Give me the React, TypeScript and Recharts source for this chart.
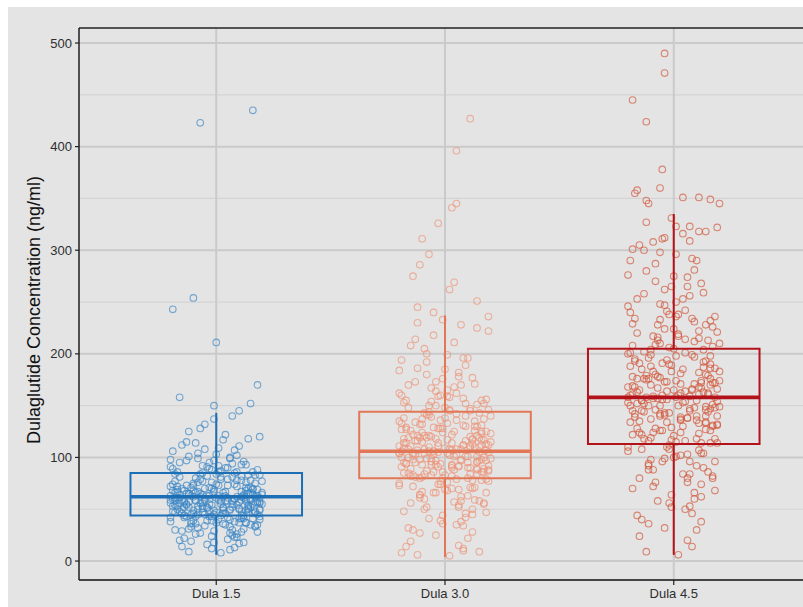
import { ScatterChart, Scatter, XAxis, YAxis, CartesianGrid, ReferenceArea, ReferenceLine } from 'recharts'

// categories and axis
const groups = ['Dula 1.5', 'Dula 3.0', 'Dula 4.5']
const yTicks = [0, 100, 200, 300, 400, 500]
const yMinor = [50, 150, 250, 350, 450]
const yTitle = 'Dulaglutide Concentration (ng/ml)'

// box stats: [whiskerLow, q1, median, q3, whiskerHigh]
const dula15Box = [6, 44, 62, 85, 143]
const dula30Box = [4, 80, 106, 144, 237]
const dula45Box = [6, 113, 158, 205, 335]

// jittered points: [jitter (1/100 of a category), value]
const dula15Points = [
  [-12, 52], [8, 38], [15, 71], [-3, 95], [-18, 47], [4, 63], [11, 28], [-7, 84], [19, 57], [-15, 112],
  [2, 44], [-9, 66], [13, 49], [-20, 91], [6, 33], [17, 75], [-5, 58], [-14, 22], [9, 102], [0, 61],
  [-17, 69], [12, 41], [-2, 54], [18, 88], [-11, 36], [5, 79], [-6, 47], [14, 118], [-19, 60], [7, 25],
  [16, 64], [-8, 99], [3, 51], [-13, 73], [10, 17], [-1, 45], [19, 83], [-16, 56], [8, 107], [-4, 39],
  [-10, 68], [14, 53], [1, 92], [-18, 30], [11, 62], [-6, 77], [17, 48], [-12, 125], [4, 35], [-20, 59],
  [9, 86], [-3, 43], [15, 66], [-15, 50], [6, 11], [-9, 80], [20, 55], [-1, 97], [12, 31], [-17, 72],
  [3, 46], [-13, 115], [18, 63], [-7, 27], [10, 57], [-19, 89], [1, 40], [16, 70], [-4, 52], [-11, 19],
  [7, 94], [-16, 61], [13, 37], [-2, 76], [19, 49], [-8, 104], [5, 58], [-14, 42], [11, 67], [0, 84],
  [-18, 54], [8, 23], [-5, 132], [15, 60], [-10, 46], [2, 81], [17, 34], [-12, 65], [6, 50], [-20, 98],
  [12, 44], [-3, 71], [18, 56], [-15, 14], [4, 90], [-7, 62], [14, 47], [-1, 29], [9, 78], [-17, 53],
  [1, 109], [-11, 38], [16, 64], [-6, 85], [10, 51], [-19, 74], [5, 21], [-9, 59], [19, 120], [-2, 43],
  [-14, 68], [7, 55], [13, 93], [-8, 32], [3, 62], [-16, 48], [11, 82], [-4, 16], [17, 57], [-12, 101],
  [6, 40], [-18, 66], [14, 51], [-1, 137], [-10, 73], [9, 26], [-5, 60], [18, 45], [2, 87], [-13, 54],
  [15, 35], [-7, 79], [4, 58], [-20, 42], [12, 96], [-3, 63], [8, 13], [-15, 70], [19, 50], [-9, 114],
  [0, 47], [-12, 9], [16, 69], [-6, 56], [10, 37], [-17, 86], [5, 61], [-2, 24], [13, 76], [-11, 45],
  [-19, 106], [3, 52], [17, 33], [-8, 67], [7, 140], [-14, 58], [11, 41], [-4, 91], [20, 64], [-16, 20],
  [9, 72], [-1, 49], [14, 83], [-10, 39], [1, 59], [-18, 77], [18, 28], [-6, 53], [6, 100], [-13, 65],
  [12, 18], [-3, 89], [-15, 46], [4, 122], [16, 55], [-9, 36], [8, 74], [-20, 63], [2, 8], [-7, 128],
  [16, 435], [-7, 423], [-10, 254], [-19, 243], [0, 211], [18, 170], [-16, 158], [15, 152], [-1, 150], [10, 145],
  [-5, 108], [13, 60], [-12, 31], [7, 81], [19, 43], [-17, 67], [3, 117], [-8, 50], [11, 93], [-2, 12],
  [-14, 57], [6, 49], [17, 62], [-2, 70], [10, 41], [-19, 53], [3, 66], [13, 58], [-8, 45], [20, 77],
  [-5, 34], [8, 60], [-16, 81], [15, 52], [1, 73], [-11, 63], [11, 48], [-20, 38], [5, 90], [-3, 55],
  [18, 69], [-9, 43], [2, 58], [-13, 97], [12, 64], [-6, 51], [16, 86], [-18, 61], [7, 30], [-1, 67],
  [14, 54], [-10, 75], [4, 46], [-15, 59], [19, 40], [-4, 82], [9, 62], [-17, 50], [0, 103], [13, 71],
  [-7, 56], [6, 27], [-12, 65], [17, 47], [-2, 88], [11, 59], [-19, 68], [3, 36], [15, 78], [-8, 53],
  [1, 63], [-14, 44], [10, 111], [-5, 70], [18, 57], [-11, 33], [7, 52], [-16, 95], [12, 61], [-3, 48],
  [20, 66], [-9, 58], [5, 42], [-20, 72], [14, 50], [-6, 64], [2, 79], [-13, 55], [9, 23], [-1, 69],
  [16, 46], [-18, 84], [8, 60], [-4, 51], [13, 37], [-10, 62], [0, 74], [19, 56], [-15, 29], [6, 99],
  [-7, 65], [11, 44], [-12, 57], [17, 83], [3, 49], [-17, 61], [14, 70], [-2, 39], [9, 54], [-19, 48],
  [4, 67], [-8, 76], [15, 59], [-14, 52], [1, 86], [12, 63], [-5, 45], [18, 35], [-11, 71], [7, 58],
  [-1, 18], [-16, 64], [10, 50], [-6, 92], [19, 61], [2, 55], [-13, 43], [13, 68], [-9, 26], [5, 73],
  [-20, 56], [16, 41], [-3, 60], [8, 85], [-10, 49], [14, 65], [-18, 58], [0, 37], [11, 78], [-4, 63],
]

const dula30Points = [
  [-11, 98], [7, 62], [16, 131], [-4, 173], [-18, 85], [3, 114], [12, 45], [-7, 150], [19, 92], [-15, 208],
  [1, 76], [-9, 121], [14, 88], [-20, 162], [6, 54], [17, 137], [-5, 103], [-14, 30], [9, 189], [0, 109],
  [-17, 127], [12, 70], [-2, 94], [18, 156], [-11, 61], [5, 142], [-6, 83], [14, 225], [-19, 106], [7, 38],
  [16, 117], [-8, 180], [3, 90], [-13, 134], [10, 22], [-1, 80], [19, 146], [-16, 100], [8, 196], [-4, 66],
  [-10, 124], [14, 96], [1, 165], [-18, 48], [11, 111], [-6, 139], [17, 86], [-12, 230], [4, 57], [-20, 104],
  [9, 152], [-3, 74], [15, 119], [-15, 89], [6, 15], [-9, 143], [20, 99], [-1, 176], [12, 50], [-17, 129],
  [3, 82], [-13, 214], [18, 113], [-7, 41], [10, 101], [-19, 160], [1, 68], [16, 125], [-4, 93], [-11, 27],
  [7, 170], [-16, 108], [13, 59], [-2, 136], [19, 87], [-8, 192], [5, 102], [-14, 72], [11, 120], [0, 148],
  [-18, 95], [8, 34], [-5, 218], [15, 105], [-10, 81], [2, 145], [17, 55], [-12, 116], [6, 91], [-20, 184],
  [12, 78], [-3, 128], [18, 97], [-15, 19], [4, 168], [-7, 110], [14, 84], [-1, 44], [9, 140], [-17, 94],
  [1, 199], [-11, 64], [16, 112], [-6, 154], [10, 90], [-19, 133], [5, 35], [-9, 104], [19, 222], [-2, 77],
  [-14, 122], [7, 97], [13, 171], [-8, 52], [3, 107], [-16, 85], [11, 147], [-4, 25], [17, 100], [-12, 186],
  [6, 69], [-18, 118], [14, 89], [-1, 233], [-10, 132], [9, 42], [-5, 106], [18, 79], [2, 158], [-13, 95],
  [15, 58], [-7, 141], [4, 101], [-20, 73], [12, 177], [-3, 114], [8, 10], [-15, 126], [19, 88], [-9, 205],
  [0, 83], [-12, 6], [16, 123], [-6, 99], [10, 63], [-17, 155], [5, 108], [-2, 39], [13, 135], [-11, 80],
  [-19, 194], [3, 92], [17, 56], [-8, 119], [7, 228], [-14, 102], [11, 71], [-4, 164], [20, 115], [-16, 32],
  [9, 130], [-1, 86], [14, 151], [-10, 67], [1, 104], [-18, 138], [18, 47], [-6, 93], [6, 182], [-13, 116],
  [12, 28], [-3, 159], [-15, 82], [4, 211], [16, 98], [-9, 60], [8, 131], [-20, 111], [2, 5], [-7, 144],
  [11, 427], [5, 396], [5, 345], [3, 341], [-3, 326], [-10, 311], [-7, 296], [-11, 286], [-14, 275], [4, 269],
  [2, 262], [14, 251], [-12, 245], [-5, 240], [19, 236], [-17, 14], [8, 12], [-19, 8], [15, 9], [-8, 200],
  [-14, 104], [6, 92], [17, 117], [-2, 128], [10, 80], [-19, 100], [3, 122], [13, 110], [-8, 87], [20, 140],
  [-5, 66], [8, 112], [-16, 148], [15, 97], [1, 133], [-11, 119], [11, 90], [-20, 75], [5, 162], [-3, 105],
  [18, 125], [-9, 84], [2, 108], [-13, 173], [12, 118], [-6, 96], [16, 155], [-18, 114], [7, 58], [-1, 124],
  [14, 101], [-10, 137], [4, 88], [-15, 111], [19, 77], [-4, 150], [9, 116], [-17, 94], [0, 185], [13, 130],
  [-7, 106], [6, 52], [-12, 121], [17, 89], [-2, 160], [11, 109], [-19, 127], [3, 70], [15, 143], [-8, 99],
  [1, 117], [-14, 83], [10, 196], [-5, 129], [18, 107], [-11, 64], [7, 98], [-16, 170], [12, 113], [-3, 91],
  [20, 123], [-9, 108], [5, 79], [-20, 135], [14, 95], [-6, 120], [2, 146], [-13, 103], [9, 46], [-1, 128],
  [16, 86], [-18, 153], [8, 112], [-4, 97], [13, 71], [-10, 115], [0, 138], [19, 105], [-15, 56], [6, 178],
  [-7, 121], [11, 84], [-12, 107], [17, 152], [3, 93], [-17, 114], [14, 130], [-2, 74], [9, 101], [-19, 91],
  [4, 125], [-8, 141], [15, 110], [-14, 98], [1, 159], [12, 117], [-5, 86], [18, 66], [-11, 132], [7, 108],
  [-1, 36], [-16, 119], [10, 95], [-6, 167], [19, 112], [2, 102], [-13, 81], [13, 126], [-9, 50], [5, 136],
  [-20, 104], [16, 78], [-3, 111], [8, 157], [-10, 93], [14, 121], [-18, 109], [0, 69], [11, 145], [-4, 118],
]

const dula45Points = [
  [-11, 150], [7, 96], [16, 198], [-4, 262], [-18, 122], [3, 171], [12, 62], [-7, 228], [19, 140], [-15, 305],
  [1, 115], [-9, 183], [14, 134], [-20, 246], [6, 80], [17, 207], [-5, 156], [-14, 40], [9, 281], [0, 165],
  [-17, 193], [12, 104], [-2, 143], [18, 236], [-11, 88], [5, 214], [-6, 126], [14, 318], [-19, 160], [7, 53],
  [16, 176], [-8, 270], [3, 137], [-13, 202], [10, 30], [-1, 117], [19, 221], [-16, 152], [8, 292], [-4, 99],
  [-10, 188], [14, 146], [1, 250], [-18, 70], [11, 168], [-6, 210], [17, 130], [-12, 327], [4, 84], [-20, 158],
  [9, 231], [-3, 110], [15, 179], [-15, 135], [6, 20], [-9, 217], [20, 149], [-1, 265], [12, 74], [-17, 195],
  [3, 124], [-13, 300], [18, 172], [-7, 58], [10, 155], [-19, 240], [1, 101], [16, 190], [-4, 141], [-11, 36],
  [7, 256], [-16, 163], [13, 90], [-2, 206], [19, 132], [-8, 287], [5, 154], [-14, 108], [11, 182], [0, 224],
  [-18, 145], [8, 46], [-5, 311], [15, 161], [-10, 119], [2, 219], [17, 80], [-12, 175], [6, 138], [-20, 276],
  [12, 114], [-3, 194], [18, 148], [-15, 24], [4, 253], [-7, 167], [14, 127], [-1, 64], [9, 212], [-17, 142],
  [1, 296], [-11, 94], [16, 170], [-6, 233], [10, 136], [-19, 201], [5, 50], [-9, 157], [19, 322], [-2, 112],
  [-14, 185], [7, 147], [13, 259], [-8, 76], [3, 162], [-16, 128], [11, 222], [-4, 32], [17, 151], [-12, 280],
  [6, 103], [-18, 178], [14, 133], [-1, 331], [-10, 199], [9, 60], [-5, 160], [18, 118], [2, 238], [-13, 144],
  [15, 86], [-7, 213], [4, 153], [-20, 106], [12, 268], [-3, 173], [8, 14], [-15, 191], [19, 131], [-9, 308],
  [0, 121], [-12, 9], [16, 186], [-6, 150], [10, 92], [-17, 234], [5, 164], [-2, 56], [13, 204], [-11, 116],
  [-19, 290], [3, 139], [17, 82], [-8, 180], [7, 323], [-14, 155], [11, 107], [-4, 247], [20, 174], [-16, 44],
  [9, 197], [-1, 129], [14, 228], [-10, 98], [1, 158], [-18, 208], [18, 68], [-6, 140], [6, 274], [-13, 176],
  [12, 38], [-3, 241], [-15, 124], [4, 316], [16, 147], [-9, 88], [8, 199], [-20, 168], [2, 6], [-7, 216],
  [-4, 490], [-4, 471], [-18, 445], [-12, 424], [-5, 378], [-6, 360], [-16, 358], [-17, 355], [4, 351], [11, 351],
  [16, 349], [-12, 348], [20, 345], [-11, 345], [1, 323], [11, 318], [-4, 312], [7, 309], [-18, 301], [-6, 298],
  [-14, 155], [6, 138], [17, 172], [-2, 190], [10, 118], [-19, 150], [3, 181], [13, 163], [-8, 128], [20, 210],
  [-5, 96], [8, 166], [-16, 220], [15, 144], [1, 198], [-11, 176], [11, 133], [-20, 110], [5, 242], [-3, 156],
  [18, 186], [-9, 124], [2, 160], [-13, 258], [12, 174], [-6, 142], [16, 232], [-18, 169], [7, 84], [-1, 183],
  [14, 149], [-10, 204], [4, 130], [-15, 165], [19, 114], [-4, 224], [9, 171], [-17, 139], [0, 275], [13, 192],
  [-7, 157], [6, 76], [-12, 179], [17, 131], [-2, 238], [11, 161], [-19, 188], [3, 102], [15, 213], [-8, 146],
  [1, 174], [-14, 122], [10, 290], [-5, 191], [18, 158], [-11, 92], [7, 145], [-16, 253], [12, 167], [-3, 134],
  [20, 183], [-9, 159], [5, 116], [-20, 200], [14, 140], [-6, 177], [2, 217], [-13, 152], [9, 66], [-1, 189],
  [16, 126], [-18, 229], [8, 165], [-4, 143], [13, 104], [-10, 170], [0, 205], [19, 154], [-15, 80], [6, 265],
  [-7, 178], [11, 123], [-12, 158], [17, 226], [3, 136], [-17, 168], [14, 193], [-2, 108], [9, 148], [-19, 134],
  [4, 185], [-8, 209], [15, 162], [-14, 145], [1, 236], [12, 172], [-5, 126], [18, 96], [-11, 196], [7, 159],
  [-1, 52], [-16, 176], [10, 140], [-6, 248], [19, 166], [2, 150], [-13, 118], [13, 187], [-9, 72], [5, 201],
  [-20, 153], [16, 114], [-3, 164], [8, 234], [-10, 137], [14, 180], [-18, 161], [0, 100], [11, 215], [-4, 173],
]

const boxColors = ['#1d6fb5', '#e27757', '#b3121a']
const pointColors = ['#3b86c6', '#ec9478', '#d2553a']

const allBoxes = [dula15Box, dula30Box, dula45Box]
const allPoints = [dula15Points, dula30Points, dula45Points]

const W = 830
const H = 607
const BOX_HALF = 0.375

function YTitle() {
  return (
    <text x={34} y={310} transform="rotate(-90 34 310)" textAnchor="middle" dominantBaseline="central"
      fontSize={18} fill="#111" fontFamily="'Liberation Sans', Arial, sans-serif">
      {yTitle}
    </text>
  )
}

export default function App() {
  const tickStyle = { fontSize: 13, fill: '#2e2e2e', fontFamily: "'Liberation Sans', Arial, sans-serif" }
  return (
    <div style={{ position: 'absolute', left: 0, top: 0, width: 803, height: 607, background: '#fff', overflow: 'hidden' }}>
      <div style={{ position: 'absolute', left: 8, top: 7, right: 0, bottom: 0, background: '#e4e4e4' }} />
      <div style={{ position: 'absolute', left: 0, top: 0 }}>
        <ScatterChart width={W} height={H} margin={{ top: 28, right: W - 811, bottom: 0, left: 0 }}>
          <CartesianGrid horizontalValues={yMinor} vertical={false} stroke="#d4d4d4" strokeWidth={1.2} />
          <CartesianGrid horizontalValues={yTicks} verticalValues={[1, 2, 3]} stroke="#cacaca" strokeWidth={2} />
          <XAxis type="number" dataKey="x" domain={[0.4, 3.6]} ticks={[1, 2, 3]} allowDataOverflow
            tickFormatter={(v: number) => groups[v - 1] ?? ''} height={27} tickSize={5} tickMargin={4}
            axisLine={{ stroke: '#111', strokeWidth: 1.4 }} tickLine={{ stroke: '#222', strokeWidth: 1.2 }} tick={tickStyle} />
          <YAxis type="number" dataKey="y" domain={[-18.3, 514.5]} ticks={yTicks} allowDataOverflow width={79}
            tickSize={4} tickMargin={3} axisLine={{ stroke: '#111', strokeWidth: 1.4 }} tickLine={{ stroke: '#222', strokeWidth: 1.2 }}
            tick={tickStyle} label={<YTitle />} />
          {allPoints.map((pts, gi) => (
            <Scatter key={groups[gi]} name={groups[gi]} isAnimationActive={false}
              data={pts.map(([j, v]) => ({ x: gi + 1 + j / 100, y: v }))}
              shape={(p: any) => (
                <circle cx={p.cx} cy={p.cy} r={3.3} fill="none" stroke={pointColors[gi]} strokeWidth={1.1} strokeOpacity={0.68} />
              )} />
          ))}
          {allBoxes.map((b, gi) => {
            const c = gi + 1
            const col = boxColors[gi]
            return [
              <ReferenceArea key={`box-${gi}`} x1={c - BOX_HALF} x2={c + BOX_HALF} y1={b[1]} y2={b[3]}
                fill="none" fillOpacity={0} stroke={col} strokeWidth={2} strokeOpacity={1} zIndex={700} />,
              <ReferenceLine key={`med-${gi}`} segment={[{ x: c - BOX_HALF, y: b[2] }, { x: c + BOX_HALF, y: b[2] }]}
                stroke={col} strokeWidth={3.6} zIndex={700} />,
              <ReferenceLine key={`wlo-${gi}`} segment={[{ x: c, y: b[0] }, { x: c, y: b[1] }]}
                stroke={col} strokeWidth={2} zIndex={700} />,
              <ReferenceLine key={`whi-${gi}`} segment={[{ x: c, y: b[3] }, { x: c, y: b[4] }]}
                stroke={col} strokeWidth={2} zIndex={700} />,
            ]
          })}
          <ReferenceLine y={514.5} stroke="#222" strokeWidth={1.6} />
        </ScatterChart>
      </div>
    </div>
  )
}
